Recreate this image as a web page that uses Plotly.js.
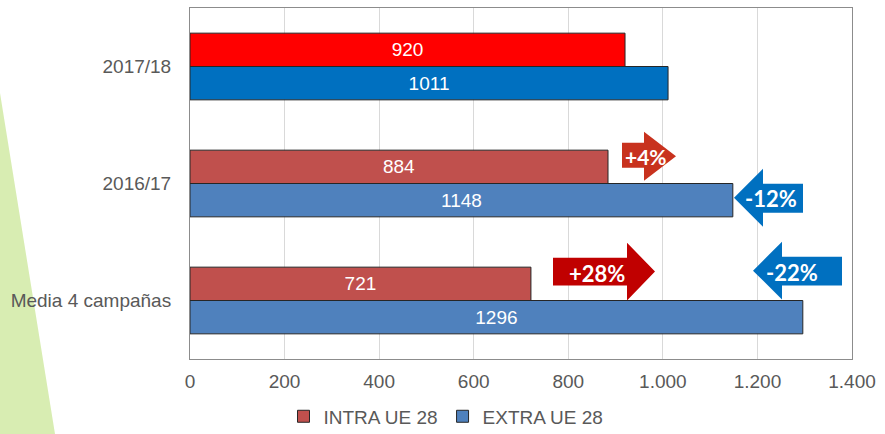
<!DOCTYPE html>
<html>
<head>
<meta charset="utf-8">
<script src="https://cdn.plot.ly/plotly-3.0.1.min.js"></script>
<style>
  html, body { margin:0; padding:0; background:#ffffff; }
  #wrap { position:relative; width:885px; height:434px; overflow:hidden; }
  #tri { position:absolute; left:0; top:0; width:885px; height:434px; background:#D8EDB2;
         clip-path: polygon(0px 93px, 55px 434px, 0px 434px); z-index:0; }
  #chart { position:absolute; left:0; top:0; width:885px; height:434px; z-index:1; }
</style>
</head>
<body>
<div id="wrap"><div id="tri"></div><div id="chart"></div></div>
<script>
// Data (bottom-to-top category order)
var categories = ['Media 4 campañas', '2016/17', '2017/18'];
var intraValues = [721, 884, 920];
var extraValues = [1296, 1148, 1011];
var seriesNames = ['INTRA UE 28', 'EXTRA UE 28'];
var intraColors = ['#C0504D', '#C0504D', '#FF0000'];
var extraColors = ['#4F81BD', '#4F81BD', '#0070C0'];
var xTickVals = [0, 200, 400, 600, 800, 1000, 1200, 1400];
var changeLabels = ['+4%', '-12%', '+28%', '-22%'];

// plot-area geometry in pixels (for decorative arrows)
var L = 190, R = 852, T = 8, B = 359.5;
function px(x) { return (x - L) / (R - L); }
function py(y) { return (B - y) / (B - T); }

function rightArrow(x0, x1, x2, by0, by1, hy0, hy1) {
  var yc = (hy0 + hy1) / 2;
  return 'M' + px(x0) + ',' + py(by0) + ' L' + px(x1) + ',' + py(by0) + ' L' + px(x1) + ',' + py(hy0) +
         ' L' + px(x2) + ',' + py(yc) + ' L' + px(x1) + ',' + py(hy1) + ' L' + px(x1) + ',' + py(by1) +
         ' L' + px(x0) + ',' + py(by1) + ' Z';
}
function leftArrow(tip, x1, x2, by0, by1, hy0, hy1) {
  var yc = (hy0 + hy1) / 2;
  return 'M' + px(tip) + ',' + py(yc) + ' L' + px(x1) + ',' + py(hy0) + ' L' + px(x1) + ',' + py(by0) +
         ' L' + px(x2) + ',' + py(by0) + ' L' + px(x2) + ',' + py(by1) + ' L' + px(x1) + ',' + py(by1) +
         ' L' + px(x1) + ',' + py(hy1) + ' Z';
}

var arrows = [
  {path: rightArrow(622, 644, 676, 143, 168, 132, 181), color: '#C8321E', tx: 646, ty: 157, size: 21},
  {path: leftArrow(734, 763, 803, 184, 213, 169, 227), color: '#0070C0', tx: 771, ty: 199, size: 22},
  {path: rightArrow(553, 627, 655, 258, 286, 243, 301), color: '#C00000', tx: 597, ty: 274, size: 22},
  {path: leftArrow(753, 782, 842, 257, 286, 242, 300), color: '#0070C0', tx: 792, ty: 273, size: 22}
];

var shapes = arrows.map(function (a) {
  return {type: 'path', xref: 'paper', yref: 'paper', path: a.path,
          fillcolor: a.color, line: {width: 0}, layer: 'above'};
});
var annotations = arrows.map(function (a, i) {
  return {xref: 'paper', yref: 'paper', x: px(a.tx), y: py(a.ty), text: changeLabels[i],
          showarrow: false, xanchor: 'center', yanchor: 'middle',
          font: {family: 'Lato, "Open Sans", sans-serif', size: a.size, color: '#ffffff', weight: 'bold'}};
});

var barFont = {family: '"Liberation Sans", Arial, sans-serif', size: 19, color: '#ffffff'};

var traces = [
  {type: 'bar', orientation: 'h', name: seriesNames[1], y: categories, x: extraValues,
   text: extraValues.map(String), textposition: 'inside', insidetextanchor: 'middle',
   constraintext: 'none', textangle: 0, textfont: barFont, hoverinfo: 'none',
   marker: {color: extraColors, line: {color: '#262626', width: 1}}},
  {type: 'bar', orientation: 'h', name: seriesNames[0], y: categories, x: intraValues,
   text: intraValues.map(String), textposition: 'inside', insidetextanchor: 'middle',
   constraintext: 'none', textangle: 0, textfont: barFont, hoverinfo: 'none',
   marker: {color: intraColors, line: {color: '#262626', width: 1}}}
];

var tickFont = {family: '"Liberation Sans", Arial, sans-serif', size: 19, color: '#595959'};

var layout = {
  width: 885, height: 434,
  margin: {l: L, r: 885 - R, t: T, b: 434 - B, pad: 0, autoexpand: false},
  paper_bgcolor: 'rgba(0,0,0,0)',
  plot_bgcolor: '#ffffff',
  barmode: 'group',
  bargap: 0.43,
  bargroupgap: 0,
  showlegend: true,
  separators: ',.',
  xaxis: {
    range: [0, 1400], tickvals: xTickVals, tickformat: ',d', automargin: false,
    showgrid: true, gridcolor: '#D9D9D9', gridwidth: 1, zeroline: false,
    showline: true, linecolor: '#8C8C8C', linewidth: 1, mirror: true,
    ticks: '', tickfont: tickFont, ticklabelstandoff: 5, fixedrange: true
  },
  yaxis: {
    type: 'category', range: [-0.5, 2.5], automargin: false,
    showgrid: false, zeroline: false,
    showline: true, linecolor: '#8C8C8C', linewidth: 1, mirror: true,
    ticks: '', tickfont: tickFont, ticklabelstandoff: 14, fixedrange: true
  },
  legend: {
    orientation: 'h', traceorder: 'reversed', x: px(446), xanchor: 'center',
    y: py(417), yanchor: 'middle', font: tickFont, itemwidth: 30,
    bgcolor: 'rgba(0,0,0,0)'
  },
  shapes: shapes,
  annotations: annotations
};

Plotly.newPlot('chart', traces, layout, {displayModeBar: false, staticPlot: true});
</script>
</body>
</html>
